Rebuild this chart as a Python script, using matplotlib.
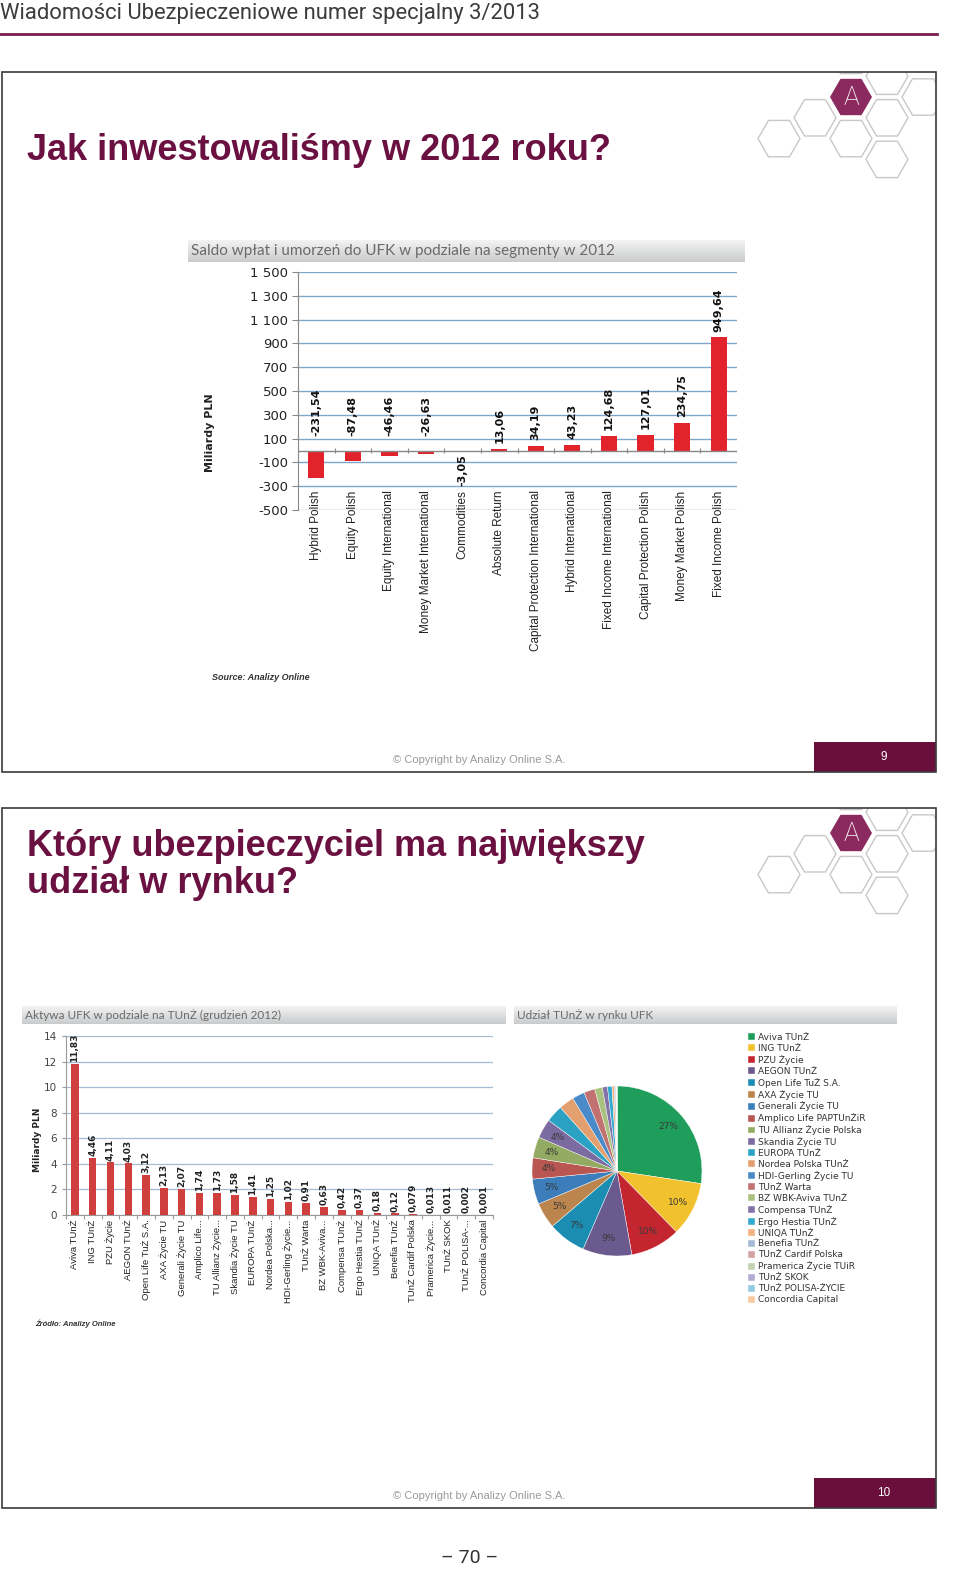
import numpy as np
import matplotlib
matplotlib.use("Agg")
import matplotlib.pyplot as plt
from matplotlib.patches import Rectangle, RegularPolygon
from matplotlib.colors import LinearSegmentedColormap

W, H = 960, 1591

# slide 9: net flows per segment (mld PLN)
segments = ["Hybrid Polish", "Equity Polish", "Equity International",
            "Money Market International", "Commodities", "Absolute Return",
            "Capital Protection International", "Hybrid International",
            "Fixed Income International", "Capital Protection Polish",
            "Money Market Polish", "Fixed Income Polish"]
segment_flows = [-231.54, -87.48, -46.46, -26.63, -3.05, 13.06, 34.19,
                 43.23, 124.68, 127.01, 234.75, 949.64]

# slide 10: assets per insurer (mld PLN)
insurers_short = ["Aviva TUnŻ", "ING TUnŻ", "PZU Życie", "AEGON TUnŻ",
                  "Open Life TuŻ S.A.", "AXA Życie TU", "Generali Życie TU",
                  "Amplico Life...", "TU Allianz Życie...", "Skandia Życie TU",
                  "EUROPA TUnŻ", "Nordea Polska...", "HDI-Gerling Życie...",
                  "TUnŻ Warta", "BZ WBK-Aviva...", "Compensa TUnŻ",
                  "Ergo Hestia TUnŻ", "UNIQA TUnŻ", "Benefia TUnŻ",
                  "TUnŻ Cardif Polska", "Pramerica Życie...", "TUnŻ SKOK",
                  "TUnŻ POLISA-...", "Concordia Capital"]
insurers_full = ["Aviva TUnŻ", "ING TUnŻ", "PZU Życie", "AEGON TUnŻ",
                 "Open Life TuŻ S.A.", "AXA Życie TU", "Generali Życie TU",
                 "Amplico Life PAPTUnŻiR", "TU Allianz Życie Polska",
                 "Skandia Życie TU", "EUROPA TUnŻ", "Nordea Polska TUnŻ",
                 "HDI-Gerling Życie TU", "TUnŻ Warta", "BZ WBK-Aviva TUnŻ",
                 "Compensa TUnŻ", "Ergo Hestia TUnŻ", "UNIQA TUnŻ",
                 "Benefia TUnŻ", "TUnŻ Cardif Polska", "Pramerica Życie TUiR",
                 "TUnŻ SKOK", "TUnŻ POLISA-ŻYCIE", "Concordia Capital"]
insurer_assets = [11.83, 4.46, 4.11, 4.03, 3.12, 2.13, 2.07, 1.74, 1.73, 1.58,
                  1.41, 1.25, 1.02, 0.91, 0.63, 0.42, 0.37, 0.18, 0.12, 0.079,
                  0.013, 0.011, 0.002, 0.001]
pie_colors = ["#1E9E5A", "#F2C12E", "#C3262F", "#6A5A8E", "#1B8DB3",
              "#BB854D", "#3B7EBB", "#B95652", "#93AA62", "#7C6BA0",
              "#2BA2C3", "#E3A06E", "#4A8AC9", "#C27171", "#AAC27F",
              "#8372AA", "#33AAD2", "#F0B27F", "#A3BAD2", "#D3A3A3",
              "#C3D2B1", "#B2AAD2", "#93CAE2", "#F8C9A2"]

PURPLE = "#6A0F3C"


def fbox(x0, y0, x1, y1):
    return [x0 / W, 1 - y1 / H, (x1 - x0) / W, (y1 - y0) / H]


def dec(v):
    return (f"{v:.2f}" if abs(v) >= 0.1 else f"{v:.3f}").replace(".", ",")


fig = plt.figure(figsize=(W / 100, H / 100), dpi=100)
bg = fig.add_axes([0, 0, 1, 1])
bg.axis("off")

# page header
bg.text(0, 13, "Wiadomości Ubezpieczeniowe numer specjalny 3/2013", fontsize=15.8,
        family="Roboto", color="#3c3c3c", va="center")
bg.plot([0, 937], [34, 34], color="#7A1E4E", lw=2)
bg.text(470, 1558, "– 70 –", fontsize=14, family="Roboto",
        color="#333333", ha="center", va="center")

grey_cmap = LinearSegmentedColormap.from_list("bar", ["#f3f3f3", "#c9cbcd"])


def title_bar(x0, y0, x1, y1, text, size):
    bg.imshow(np.linspace(0, 1, 30).reshape(-1, 1), extent=(x0, x1, y1, y0),
              cmap=grey_cmap, aspect="auto")
    bg.text(x0 + 3, (y0 + y1) / 2, text, fontsize=size, family="Lato",
            color="#6a6a6a", va="center")


def slide(top, bottom, num, title, ty):
    box = Rectangle((2, top), 934, bottom - top, fill=False, ec="#3a3a3a", lw=1.2, zorder=5)
    bg.add_patch(box)
    bg.add_patch(Rectangle((814, bottom - 30), 122, 30, fc=PURPLE, ec="none", zorder=4))
    bg.text(884, bottom - 15, num, color="white", fontsize=8.5, family="Liberation Sans",
            ha="center", va="center", zorder=6)
    bg.text(393, bottom - 12, "© Copyright by Analizy Online S.A.", fontsize=8,
            family="Liberation Sans", color="#9a9a9a", va="center")
    bg.text(27, ty, title, fontsize=26, weight="bold", family="Liberation Sans",
            color="#6B1141", va="center", linespacing=1.08)
    # hexagon logo
    cx, cy = 851, top + 25
    clip = Rectangle((2, top), 934, bottom - top, transform=bg.transData)
    for q, r in [(1, -1), (2, -1), (-1, 1), (-2, 2), (0, 1), (1, 0), (1, 1), (0, -1)]:
        hx = cx + 36 * q
        hy = cy + 41.6 * (r + q / 2)
        h = RegularPolygon((hx, hy), 6, radius=21, orientation=np.pi / 6,
                           fill=False, ec="#c8c8c8", lw=1)
        bg.add_patch(h)
        h.set_clip_path(clip)
    bg.add_patch(RegularPolygon((cx, cy), 6, radius=21, orientation=np.pi / 6,
                                fc="#8B2A5E", ec="none"))
    bg.text(cx, cy + 1, "A", color="white", fontsize=19, family="Roboto",
            weight="light", ha="center", va="center")


slide(72, 772, "9", "Jak inwestowaliśmy w 2012 roku?", 150)
slide(808, 1508, "10", "Który ubezpieczyciel ma największy\nudział w rynku?", 865)

title_bar(188, 240, 745, 262, "Saldo wpłat i umorzeń do UFK w podziale na segmenty w 2012", 11)
title_bar(22, 1006, 506, 1024, "Aktywa UFK w podziale na TUnŻ (grudzień 2012)", 8.5)
title_bar(514, 1006, 897, 1024, "Udział TUnŻ w rynku UFK", 8.5)

bg.text(212, 677, "Source: Analizy Online", style="italic", weight="bold",
        fontsize=6.5, family="Liberation Sans", color="#333333", va="center")
bg.text(35, 1324, "Źródło: Analizy Online", style="italic", weight="bold",
        fontsize=5.5, family="Liberation Sans", color="#333333", va="center")
bg.text(210, 433, "Miliardy PLN", rotation=90, weight="bold", fontsize=8,
        ha="center", va="center", color="#222222")
bg.text(38, 1140, "Miliardy PLN", rotation=90, weight="bold", fontsize=6.5,
        ha="center", va="center", color="#222222")

bg.set_xlim(0, W)
bg.set_ylim(H, 0)

# chart 1 - segments
ax1 = fig.add_axes(fbox(298, 272, 737, 510))
x1 = np.arange(len(segments))
ax1.bar(x1, segment_flows, width=0.44, color="#E3232C", zorder=3)
ax1.set_xlim(-0.5, len(segments) - 0.5)
ax1.set_ylim(-500, 1500)
ticks = np.arange(-500, 1501, 200)
ax1.set_yticks(ticks)
ax1.set_yticklabels([f"{t:,}".replace(",", " ") for t in ticks], fontsize=9.5, color="#222222")
ax1.set_xticks([])
ax1.yaxis.grid(True, color="#7FA7CC", lw=1)
ax1.set_axisbelow(True)
for s in ["top", "right", "bottom"]:
    ax1.spines[s].set_visible(False)
ax1.spines["left"].set_color("#888888")
ax1.tick_params(axis="y", length=4, color="#888888", pad=3)
ax1.axhline(0, color="#888888", lw=1, zorder=4)
ax1.vlines(np.arange(len(segments) + 1) - 0.5, -25, 25, colors="#888888", lw=0.8, zorder=4)
ax1.patch.set_alpha(0)
for xi, v in zip(x1, segment_flows):
    if -10 < v < 0:
        y, va = -30, "top"
    elif v < 0:
        y, va = 120, "bottom"
    else:
        y, va = v + 50, "bottom"
    ax1.text(xi, y, dec(v), rotation=90, ha="center", va=va, fontsize=8,
             weight="bold", color="#111111", zorder=5)
    ax1.text(xi, -336, segments[xi], rotation=90, ha="center", va="top",
             fontsize=8.5, family="Liberation Sans", color="#222222", clip_on=False)

# chart 2 - insurers
ax2 = fig.add_axes(fbox(66, 1036, 493, 1215))
x2 = np.arange(len(insurer_assets))
ax2.bar(x2, insurer_assets, width=0.42, color="#CF3F3E", zorder=3)
ax2.set_xlim(-0.5, len(insurer_assets) - 0.5)
ax2.set_ylim(0, 14)
ax2.set_yticks(np.arange(0, 15, 2))
ax2.tick_params(axis="y", labelsize=7.5, labelcolor="#444444", length=3, color="#999999")
ax2.set_xticks(np.arange(len(insurer_assets) + 1) - 0.5)
ax2.set_xticklabels([])
ax2.tick_params(axis="x", length=3, color="#999999")
ax2.yaxis.grid(True, color="#A5BBD3", lw=0.9)
ax2.set_axisbelow(True)
for s in ["top", "right"]:
    ax2.spines[s].set_visible(False)
ax2.spines["left"].set_color("#999999")
ax2.spines["bottom"].set_color("#999999")
ax2.patch.set_alpha(0)
for xi, v in zip(x2, insurer_assets):
    ax2.text(xi, v + 0.15, dec(v), rotation=90, ha="center", va="bottom",
             fontsize=6.5, weight="bold", color="#222222", zorder=5)
    ax2.text(xi, -0.35, insurers_short[xi], rotation=90, ha="center", va="top",
             fontsize=6.8, family="Liberation Sans", color="#222222", clip_on=False)

# chart 3 - pie
ax3 = fig.add_axes(fbox(532, 1086, 702, 1256))
wedges, _, _ = ax3.pie(insurer_assets, colors=pie_colors, startangle=90, counterclock=False,
                       autopct=lambda p: f"{p:.0f}%" if p >= 3.5 else "",
                       pctdistance=0.8, wedgeprops=dict(edgecolor="white", linewidth=0.3),
                       textprops=dict(fontsize=6.5, color="#3a3a3a"))
ax3.set_aspect("equal")
ax3.set_xlim(-1, 1)
ax3.set_ylim(-1, 1)
leg = ax3.legend(wedges, insurers_full, loc="upper left",
                 bbox_to_anchor=(748 / W, 1 - 1033 / H), bbox_transform=fig.transFigure,
                 frameon=False, fontsize=6.5, handlelength=0.8, handleheight=0.8,
                 handletextpad=0.3, labelspacing=0.22, borderpad=0, borderaxespad=0)
for t in leg.get_texts():
    t.set_color("#333333")

fig.savefig("out.png", dpi=100)
